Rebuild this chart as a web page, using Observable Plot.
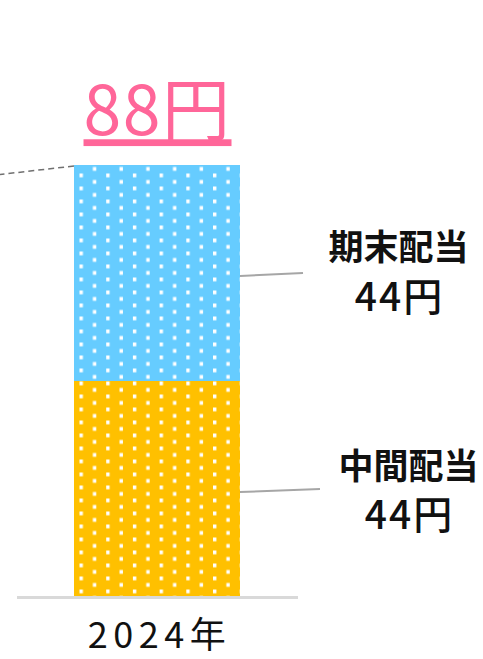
<!DOCTYPE html>
<html><head><meta charset="utf-8">
<script src="https://cdn.jsdelivr.net/npm/d3@7"></script>
<script src="https://cdn.jsdelivr.net/npm/@observablehq/plot@0.6"></script>
<style>html,body{margin:0;padding:0;background:#fff;} svg{display:block}</style>
</head><body><div id="chart"></div>
<script>
const years = ["2024年"];
const segments = ["中間配当", "期末配当"];
const amounts = [44, 44];
const segmentColors = ["#FFC000", "#66CCFF"];
const totals = [88];
const unit = "円";

// build stacked table
let acc = 0;
const data = segments.map((s, i) => {
  const d = {year: years[0], segment: s, value: amounts[i], color: segmentColors[i], y1: acc, y2: acc + amounts[i]};
  d.mid = (d.y1 + d.y2) / 2;
  acc = d.y2;
  return d;
});
const totalData = years.map((y, i) => ({year: y, total: totals[i]}));

// label style offsets per segment (pixels)
const labelStyle = [
  {dx: 251, dyName: -22, dyValue: 27},
  {dx: 241, dyName: -25, dyValue: 25}
];

const font = "'Noto Sans CJK JP', 'Noto Sans', sans-serif";
const marks = [
  Plot.barY(data, {x: "year", y1: "y1", y2: "y2", fill: "color"}),
  Plot.barY(data, {x: "year", y1: "y1", y2: "y2", fill: "url(#dots)"}),
  Plot.ruleY([0], {stroke: "#d9d9d9", strokeWidth: 3}),
  Plot.text(years, {x: d => d, text: d => d, frameAnchor: "bottom", dy: 50, dx: 2, fontSize: 36, fill: "#111"}),
  Plot.text(totalData, {x: "year", y: "total", text: d => d.total + unit, dy: -52, dx: 0, fontSize: 68, fill: "#FF6699"})
];
data.forEach((d, i) => {
  const st = labelStyle[i];
  marks.push(Plot.text([d], {x: "year", y: "mid", text: "segment", dx: st.dx, dy: st.dyName, fontSize: 35, fontWeight: 700, fill: "#111"}));
  marks.push(Plot.text([d], {x: "year", y: "mid", text: v => v.value + unit, dx: st.dx + 1, dy: st.dyValue, fontSize: 39, fontWeight: 500, fill: "#111"}));
});

const chart = Plot.plot({
  width: 483, height: 659,
  marginTop: 165, marginBottom: 62, marginLeft: 17, marginRight: 185,
  x: {domain: years, padding: 0.255, axis: null},
  y: {domain: [0, totals[0]], axis: null},
  style: {fontFamily: font, background: "#fff", overflow: "visible"},
  marks
});

const svg = d3.select(chart);
const xs = chart.scale("x"), ys = chart.scale("y");
const bx0 = xs.apply(years[0]);
const bw = xs.bandwidth;
const bx1 = bx0 + bw;
const topY = ys.apply(totals[0]);

// dot pattern
const defs = svg.insert("defs", ":first-child");
const pat = defs.append("pattern").attr("id", "dots").attr("patternUnits", "userSpaceOnUse")
  .attr("x", bx0 + 5.5).attr("y", topY + 8.5).attr("width", 26.7).attr("height", 13);
pat.append("rect").attr("x", 0).attr("y", 0).attr("width", 3.4).attr("height", 3.8).attr("fill", "#fff");
pat.append("rect").attr("x", 13.35).attr("y", 6.5).attr("width", 3.4).attr("height", 3.8).attr("fill", "#fff");

// letter spacing and underline (select text groups by their font size)
const sel = fs => svg.selectAll(`g[font-size="${fs}"] text, text[font-size="${fs}"]`);
sel(36).attr("letter-spacing", 5.5);
sel(68).attr("letter-spacing", 1.5).style("text-decoration", "underline").style("text-decoration-thickness", "3px");
sel(39).attr("letter-spacing", 2);

// leader lines
const leaderLen = [80, 63];
data.forEach((d, i) => {
  const y = ys.apply(d.mid);
  svg.append("line").attr("x1", bx1).attr("y1", y + 3).attr("x2", bx1 + leaderLen[i]).attr("y2", y)
    .attr("stroke", "#a6a6a6").attr("stroke-width", 2);
});
// dashed connector from previous period
svg.append("line").attr("x1", bx0).attr("y1", topY + 1).attr("x2", 0).attr("y2", topY + 9.5)
  .attr("stroke", "#707070").attr("stroke-width", 1.5).attr("stroke-dasharray", "6,4");

document.getElementById("chart").append(chart);
</script>
</body></html>
